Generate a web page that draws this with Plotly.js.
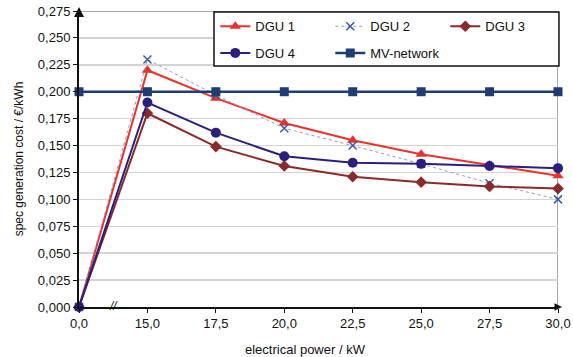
<!DOCTYPE html>
<html><head><meta charset="utf-8">
<script src="https://cdn.plot.ly/plotly-3.0.1.min.js"></script>
<style>html,body{margin:0;padding:0;background:#fff}#c{width:573px;height:357px}</style>
</head><body><div id="c"></div>
<script>
const categories = ['0,0','15,0','17,5','20,0','22,5','25,0','27,5','30,0'];
const dgu1 = [0, 0.220, 0.194, 0.171, 0.155, 0.142, 0.132, 0.122];
const dgu2 = [0, 0.230, 0.197, 0.166, 0.150, 0.133, 0.115, 0.100];
const dgu3 = [0, 0.180, 0.149, 0.131, 0.121, 0.116, 0.112, 0.110];
const dgu4 = [0, 0.190, 0.162, 0.140, 0.134, 0.133, 0.131, 0.129];
const mv   = [0.200, 0.200, 0.200, 0.200, 0.200, 0.200, 0.200, 0.200];
const yTicks = [0,0.025,0.05,0.075,0.1,0.125,0.15,0.175,0.2,0.225,0.25,0.275];
const yTickText = yTicks.map(v => v.toFixed(3).replace('.', ','));
const xi = categories.map((_, i) => i);

const F = 'Liberation Sans, Arial, sans-serif';
function tr(name, y, color, lw, dash, sym, msize, mcolor, lg) {
  return {x: xi, y: y, name: name, type: 'scatter', mode: 'lines+markers', legend: lg,
    line: {color: color, width: lw, dash: dash},
    marker: {symbol: sym, size: msize, color: mcolor || color, line: {width: sym === 'x-thin' ? 1.5 : 0, color: mcolor || color}},
    cliponaxis: false};
}
const data = [
  tr('DGU 1', dgu1, '#e8332b', 2, 'solid', 'triangle-up', 10, null, 'legend'),
  tr('DGU 2', dgu2, '#8a9ad0', 1, 'dot', 'x-thin', 8, '#3a5aa8', 'legend'),
  tr('DGU 3', dgu3, '#8a2a2a', 2, 'solid', 'diamond', 9, null, 'legend'),
  tr('DGU 4', dgu4, '#2b1f7e', 2, 'solid', 'circle', 10, null, 'legend2'),
  tr('MV-network', mv, '#1f3d72', 2.5, 'solid', 'square', 9, null, 'legend2')
];
const legBase = {orientation: 'h', xanchor: 'left', yanchor: 'top', bgcolor: 'rgba(0,0,0,0)', borderwidth: 0,
  entrywidth: 70, entrywidthmode: 'pixels', traceorder: 'normal', itemwidth: 30,
  font: {family: F, size: 13, color: '#111'}};
const layout = {
  width: 573, height: 357,
  margin: {l: 79, r: 15, t: 11, b: 50},
  paper_bgcolor: '#fff', plot_bgcolor: '#fff',
  font: {family: F, size: 11, color: '#1a1a1a'},
  showlegend: true,
  legend: Object.assign({}, legBase, {x: 0.2845, y: 0.999}),
  legend2: Object.assign({}, legBase, {x: 0.2845, y: 0.909}),
  xaxis: {range: [0, 7], tickvals: xi, ticktext: categories, ticks: 'outside', ticklen: 4,
    tickcolor: '#111', showgrid: false, zeroline: false, showline: true, linecolor: '#111', linewidth: 1.5,
    tickfont: {family: F, size: 13, color: '#111'}},
  yaxis: {range: [0, 0.275], tickvals: yTicks, ticktext: yTickText, ticks: 'outside', ticklen: 4,
    tickcolor: '#111', showgrid: true, gridcolor: '#d4d4d4', gridwidth: 1.5, zeroline: false,
    showline: true, linecolor: '#111', linewidth: 2,
    tickfont: {family: F, size: 13, color: '#111'},
    title: {text: 'spec generation cost / €/kWh', font: {family: F, size: 12, color: '#111'}, standoff: 12}},
  shapes: [
    {type: 'line', xref: 'x', yref: 'paper', x0: 7, x1: 7, y0: 0, y1: 1, line: {color: '#8a8a8a', width: 1.5}, layer: 'below'},
    {type: 'line', xref: 'paper', yref: 'y', x0: 0, x1: 1, y0: 0.275, y1: 0.275, line: {color: '#8a8a8a', width: 1.5}, layer: 'below'},
    {type: 'line', xref: 'paper', yref: 'y', x0: 0, x1: 1, y0: 0.25, y1: 0.25, line: {color: '#8a8a8a', width: 1.5}, layer: 'below'},
    {type: 'rect', xref: 'paper', yref: 'paper', x0: 0.2818, x1: 1.002, y0: 0.814, y1: 0.9966, fillcolor: '#fff', line: {color: '#111', width: 1.5}, layer: 'above'}
  ],
  annotations: [
    {x: 0.472, y: -0.145, xref: 'paper', yref: 'paper', yanchor: 'middle', text: 'electrical power / kW', showarrow: false, font: {family: F, size: 13, color: '#111'}},
    {x: 0.5, y: 0, xref: 'x', yref: 'y', text: '<i>//</i>', showarrow: false, font: {family: F, size: 12, color: '#111'}, yshift: 1},
    {x: 0, y: 0.275, xref: 'x', yref: 'y', text: '', showarrow: true, ax: 0, ay: 8, arrowhead: 2, arrowsize: 1, arrowwidth: 2, arrowcolor: '#111', yshift: 4},
    {x: 7, y: 0, xref: 'x', yref: 'y', text: '', showarrow: true, ax: -8, ay: 0, arrowhead: 2, arrowsize: 1, arrowwidth: 1.5, arrowcolor: '#111', xshift: 4}
  ]
};
Plotly.newPlot('c', data, layout, {displayModeBar: false, staticPlot: true});
</script></body></html>
